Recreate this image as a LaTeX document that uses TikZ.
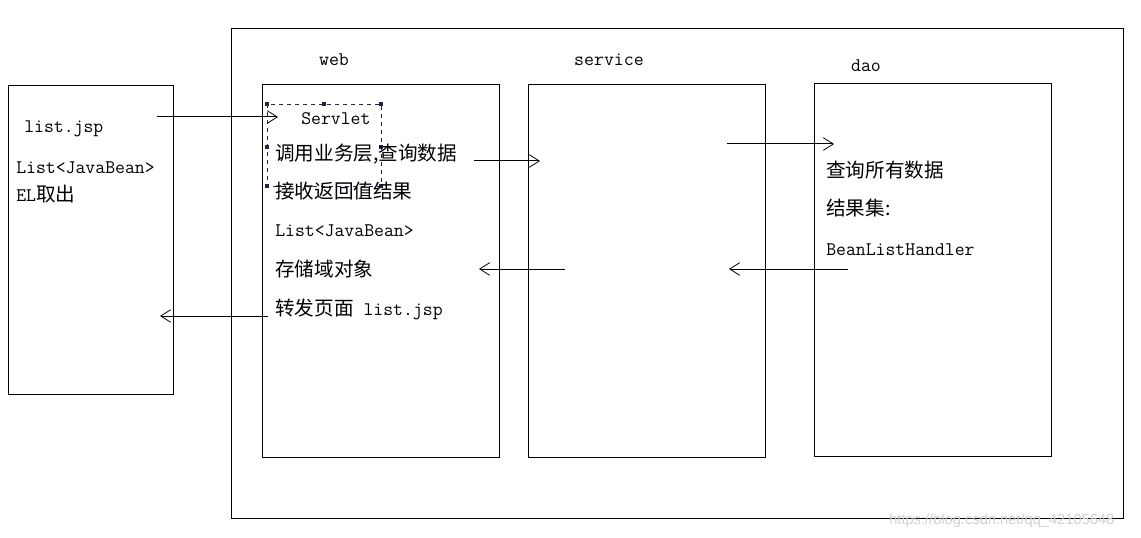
\documentclass[tikz,border=0pt]{standalone}
\usepackage{fontspec}
\newfontfamily\cjk{Noto Sans CJK SC}
\newfontfamily\wmfont{Liberation Sans}
\newcommand\zh{\cjk\fontsize{14.7}{16}\selectfont}
\usetikzlibrary{arrows.meta,fit}
\definecolor{handle}{RGB}{30,36,90}
\begin{document}
\begin{tikzpicture}[x=0.75pt,y=-0.75pt,
  box/.style={draw,line width=0.75pt,inner sep=0pt},
  txt/.style={anchor=base west,inner sep=0pt,font=\fontsize{14.4}{16}\selectfont\ttfamily},
  lbl/.style={anchor=base,inner sep=0pt,font=\fontsize{14.5}{16}\selectfont\ttfamily},
  flow/.style={line width=0.75pt,-{Straight Barb[length=7.5pt,width=9.5pt,line width=0.6pt]}},
  hdl/.style={fill=handle,inner sep=0pt,minimum size=2.6pt}]
\useasboundingbox (0,0) rectangle (1141,538);
% outer frame
\coordinate (o1) at (231,29); \coordinate (o2) at (1123,518);
\node[box,fit=(o1)(o2)] (outer) {};
% boxes
\coordinate (l1) at (8,86); \coordinate (l2) at (173,394);
\node[box,fit=(l1)(l2)] (jsp) {};
\coordinate (w1) at (262,85); \coordinate (w2) at (499,457);
\node[box,fit=(w1)(w2)] (web) {};
\coordinate (s1) at (528,85); \coordinate (s2) at (765,457);
\node[box,fit=(s1)(s2)] (service) {};
\coordinate (d1) at (814,84); \coordinate (d2) at (1051,456);
\node[box,fit=(d1)(d2)] (dao) {};
% labels
\node[lbl] (weblbl) at (334,66) {web};
\node[lbl] (servlbl) at (609,66) {service};
\node[lbl] (daolbl) at (866,72) {dao};
% jsp texts
\node[txt] (t1) at (24,133) {list.jsp};
\node[txt] (t2) at (16,174) {List<JavaBean>};
\node[txt] (t3) at (16,202) {EL{\zh 取出}};
% dashed servlet box
\draw[handle,dashed,line width=0.6pt] (267,104) rectangle (381,186);
\foreach \p [count=\i] in {(267,104),(324,104),(381,104),(267,147),(381,147),(267,186),(381,186)}
  \node[hdl] (h\i) at \p {};
% web texts
\node[txt] (servlet) at (301,125) {Servlet};
\node[txt] (w1t) at (275,161) {\zh 调用业务层,查询数据};
\node[txt] (w2t) at (275,199) {\zh 接收返回值结果};
\node[txt] (w3t) at (275,237) {List<JavaBean>};
\node[txt] (w4t) at (275,276) {\zh 存储域对象};
\node[txt] (w5t) at (275,315) {{\zh 转发页面} list.jsp};
% dao texts
\node[txt] (d1t) at (826,178) {\zh 查询所有数据};
\node[txt] (d2t) at (826,216) {\zh 结果集:};
\node[txt] (d3t) at (826,255) {BeanListHandler};
% arrows
\coordinate (a1s) at (157,117); \coordinate (a1e) at (278,117);
\coordinate (a2s) at (474,161); \coordinate (a2e) at (540,161);
\coordinate (a3s) at (727,144); \coordinate (a3e) at (834,144);
\coordinate (a4s) at (848,269); \coordinate (a4e) at (729,269);
\coordinate (a5s) at (565,269); \coordinate (a5e) at (479,269);
\coordinate (a6s) at (268,316); \coordinate (a6e) at (160,316);
\draw[flow] (a1s) -- (a1e);
\draw[flow] (a2s) -- (a2e);
\draw[flow] (a3s) -- (a3e);
\draw[flow] (a4s) -- (a4e);
\draw[flow] (a5s) -- (a5e);
\draw[flow] (a6s) -- (a6e);
% watermark
\node[anchor=base west,inner sep=0pt,text=black!18,font=\wmfont\fontsize{11}{13}\selectfont] (wm) at (889,524) {https://blog.csdn.net/qq\_42105648};
\end{tikzpicture}
\end{document}
